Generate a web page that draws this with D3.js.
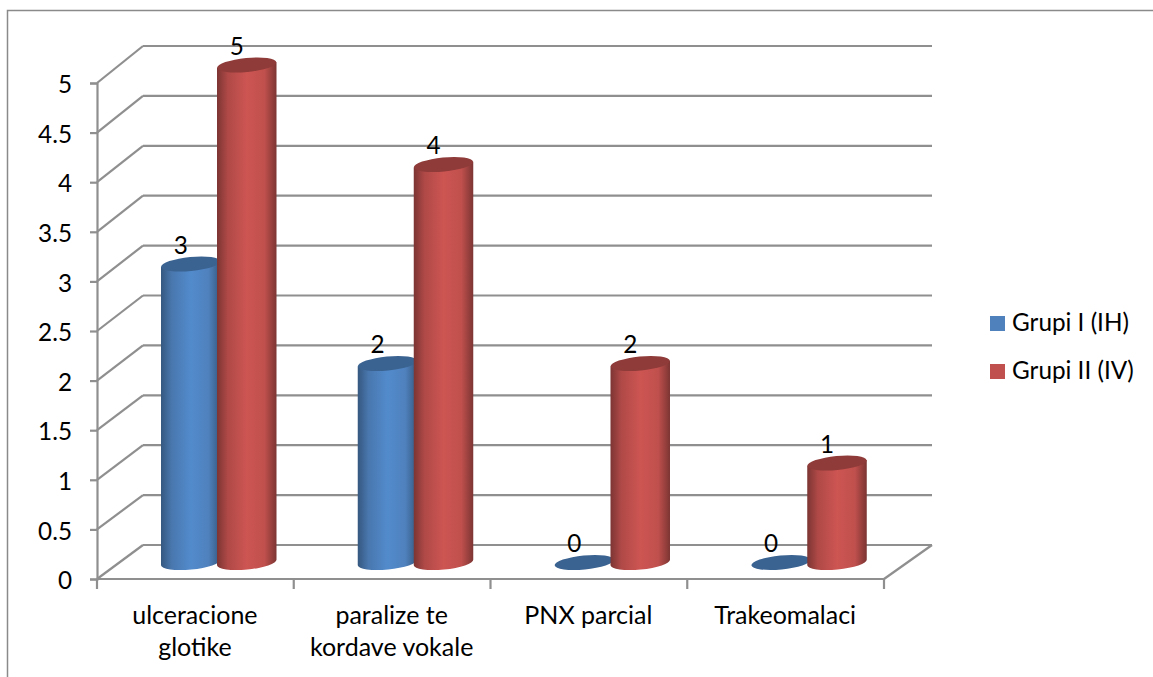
<!DOCTYPE html>
<html>
<head>
<meta charset="utf-8">
<script src="https://cdn.jsdelivr.net/npm/d3@7"></script>
<style>
html,body{margin:0;padding:0;background:#fff}
svg{display:block}
text{font-family:Lato,"Open Sans",sans-serif;fill:#000}
</style>
</head>
<body>
<script>
const categories = [["ulceracione","glotike"],["paralize te","kordave vokale"],["PNX parcial"],["Trakeomalaci"]];
const seriesNames = ["Grupi I (IH)","Grupi II (IV)"];
const grupiI = [3,2,0,0];
const grupiII = [5,4,2,1];
const yTicks = d3.range(0,5.5,0.5);
const baseColors = ["#4f81bd","#c0504d"];
const edgeColors = ["#35587f","#7c3533"];
const midColors  = ["#528bcc","#cd5552"];
const topColors  = ["#3b6391","#8e3b39"];

const W=1153,H=677;
const svg=d3.select("body").append("svg").attr("width",W).attr("height",H);
const defs=svg.append("defs");
baseColors.forEach((c,i)=>{
  const g=defs.append("linearGradient").attr("id","cyl"+i);
  [[0,edgeColors[i]],[.18,d3.interpolateRgb(edgeColors[i],baseColors[i])(.75)],[.5,midColors[i]],[.8,baseColors[i]],[1,edgeColors[i]]]
    .forEach(([o,col])=>g.append("stop").attr("offset",o).attr("stop-color",col));
});

// frame around the chart area
svg.append("path").attr("d","M7.5,677V10.5H1153").attr("fill","none").attr("stroke","#8a8a8a").attr("stroke-width",1.5);

// front and back planes of the 3D box
const yFront=d3.scaleLinear().domain([0,5]).range([579,83]);
const yBack=d3.scaleLinear().domain([0,5]).range([545,46]);
const xFront=d3.scaleBand().domain(d3.range(categories.length)).range([97,884]);
const xBack0=143,xBack1=932;
const gridColor="#8f8f8f";

const grid=svg.append("g").attr("fill","none").attr("stroke",gridColor).attr("stroke-width",2.2);
yTicks.forEach(t=>{
  grid.append("line").attr("x1",xBack0).attr("x2",xBack1).attr("y1",yBack(t)).attr("y2",yBack(t));
  grid.append("line").attr("x1",xFront.range()[0]).attr("x2",xBack0).attr("y1",yFront(t)).attr("y2",yBack(t));
});
// floor edges
grid.append("line").attr("x1",97).attr("x2",884).attr("y1",yFront(0)).attr("y2",yFront(0));
grid.append("line").attr("x1",884).attr("x2",xBack1).attr("y1",yFront(0)).attr("y2",yBack(0));

// value axis
const yAxis=d3.axisLeft(yFront).tickValues(yTicks).tickFormat(d3.format("~g")).tickSize(7).tickPadding(18);
const ya=svg.append("g").attr("transform","translate(97,0)").call(yAxis);
ya.selectAll("path,line").attr("stroke",gridColor).attr("stroke-width",2.2);
ya.selectAll("text").attr("font-size",24.3).style("font-family","Lato").attr("dy","0.4em");

// category ticks and labels
const ticksX=categories.map((_,i)=>xFront(i)).concat(xFront.range()[1]);
svg.append("g").selectAll("line").data(ticksX).join("line")
  .attr("x1",d=>d).attr("x2",d=>d).attr("y1",579).attr("y2",589)
  .attr("stroke",gridColor).attr("stroke-width",2.2);
const catLabels=svg.append("g").selectAll("text").data(categories).join("text")
  .attr("text-anchor","middle").attr("font-size",25);
catLabels.each(function(lines,i){
  d3.select(this).selectAll("tspan").data(lines).join("tspan")
    .attr("x",xFront(i)+xFront.bandwidth()/2-0.5).attr("y",(_,k)=>624+k*32).text(d=>d);
});

// cylinders: neighbouring bars overlap slightly, the second series on top
const yBar=d3.scaleLinear().domain([0,5]).range([562.5,65]);
const xInner=d3.scalePoint().domain([0,1]).range([64,120]);
const barWidth=59.5;
const rx=barWidth/2, ry=7, tilt=-5.5, dy=rx*Math.sin(-tilt*Math.PI/180);
const series=[grupiI,grupiII];
categories.forEach((_,ci)=>{
  series.forEach((vals,si)=>{
    const v=vals[ci];
    const left=xFront(ci)+xInner(si), right=left+barWidth, cx=(left+right)/2;
    const top=yBar(v), base=yBar(0);
    const g=svg.append("g");
    if(v>0){
      g.append("path")
       .attr("d",`M${left},${top+dy}L${left},${base+dy}A${rx},${ry} ${tilt} 0 0 ${right},${base-dy}L${right},${top-dy}Z`)
       .attr("fill",`url(#cyl${si})`);
    }
    g.append("ellipse").attr("cx",cx).attr("cy",top).attr("rx",rx).attr("ry",ry)
     .attr("transform",`rotate(${tilt} ${cx} ${top})`).attr("fill",topColors[si]);
    svg.append("text").attr("x",cx-10).attr("y",top-10.5).attr("text-anchor","middle")
      .attr("font-size",24.3).text(v);
  });
});

// legend
const legendY=d3.scalePoint().domain(seriesNames).range([323.5,371.5]);
const lg=svg.append("g").selectAll("g").data(seriesNames).join("g")
  .attr("transform",d=>`translate(990,${legendY(d)})`);
lg.append("rect").attr("x",0).attr("y",-7.5).attr("width",15).attr("height",15).attr("fill",(_,i)=>baseColors[i]);
lg.append("text").attr("x",22).attr("y",7.5).attr("font-size",24.3).text(d=>d);
</script>
</body>
</html>
